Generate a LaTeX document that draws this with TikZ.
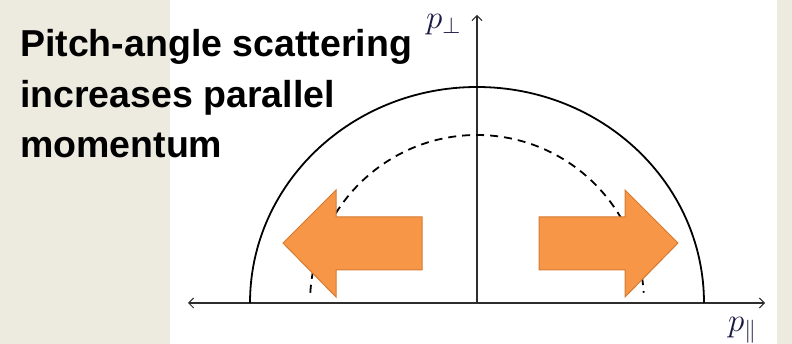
\RequirePackage{fix-cm}
\documentclass[tikz,border=0pt]{standalone}
\usepackage{fontspec}
\setmainfont{Liberation Sans}
\usetikzlibrary{arrows.meta}
\definecolor{beige}{RGB}{237,234,224}
\definecolor{orfill}{RGB}{247,150,70}
\definecolor{ordraw}{RGB}{214,122,50}
\definecolor{axcol}{RGB}{45,45,45}
\definecolor{lblcol}{RGB}{25,25,70}
\tikzset{
  axisline/.style={draw=axcol, line width=1.1pt, -{Straight Barb[length=5pt,width=10pt,line width=1pt]}},
  shell/.style={draw=black, line width=1.8pt},
  shelldash/.style={draw=black, line width=1.8pt, dash pattern=on 8pt off 6pt},
  fatarrow/.style={fill=orfill, draw=ordraw, line width=1pt, line join=miter},
  title/.style={anchor=base west, inner sep=0pt, font=\fontsize{37.5}{42}\selectfont\bfseries, text=black},
  axlabel/.style={anchor=base west, inner sep=0pt, text=lblcol, font=\fontsize{33}{38}\selectfont}
}
\begin{document}
\begin{tikzpicture}[x=1pt,y=1pt]
\useasboundingbox (0,0) rectangle (792,344);
% backgrounds
\fill[white] (0,0) rectangle (792,344);
\fill[beige] (0,0) rectangle (170,344);
\fill[beige] (777,0) rectangle (792,344);
% axes
\coordinate (O) at (477,41);
\coordinate (xl) at (188,41);
\coordinate (xr) at (765,41);
\coordinate (yt) at (477,329);
\draw[axisline] (O) -- (xl);
\draw[axisline] (O) -- (xr);
\draw[axisline] (O) -- (yt);
% solid shell
\coordinate (sL) at (250,41);
\draw[shell] (sL) arc[start angle=180, end angle=0, x radius=227, y radius=216];
% dashed shell
\coordinate (dL) at ({477+167*cos(176.5)},{41+168*sin(176.5)});
\draw[shelldash] (dL) arc[start angle=176.5, end angle=3.5, x radius=167, y radius=168];
% orange arrows
\coordinate (la) at (283,101);
\coordinate (ra) at (678,101);
\draw[fatarrow] (la) -- (336,154) -- (336,127) -- (422,127) -- (422,74) -- (336,74) -- (336,47) -- cycle;
\draw[fatarrow] (ra) -- (625,154) -- (625,127) -- (539,127) -- (539,74) -- (625,74) -- (625,47) -- cycle;
% texts
\node[title] (t1) at (20,287) {Pitch-angle scattering};
\node[title] (t2) at (20,236) {increases parallel};
\node[title] (t3) at (20,186) {momentum};
\node[axlabel] (pperp) at (426,315) {$p_{\perp}$};
\node[axlabel] (ppar) at (728,12) {$p_{\parallel}$};
\end{tikzpicture}
\end{document}
